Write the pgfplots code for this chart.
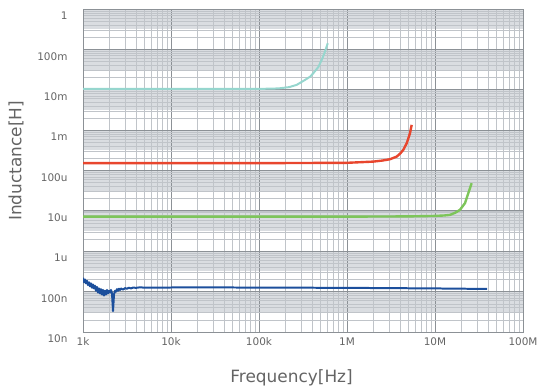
\documentclass[border=0pt]{standalone}
\usepackage{fontspec}
\setmainfont{DejaVu Sans}
\usepackage{pgfplots}
\pgfplotsset{compat=1.18}
\definecolor{bandgray}{RGB}{218,221,225}
\definecolor{gridminor}{RGB}{192,196,201}
\definecolor{gridmajor}{RGB}{140,145,150}
\definecolor{labelgray}{RGB}{100,100,100}
\definecolor{ccyan}{RGB}{150,214,206}
\definecolor{cred}{RGB}{232,70,46}
\definecolor{cgreen}{RGB}{125,197,90}
\definecolor{cblue}{RGB}{28,79,156}
\begin{document}
\begin{tikzpicture}
\begin{axis}[
  set layers,
  at={(0,0)}, anchor=south west,
  scale only axis, width=440bp, height=323bp,
  xmode=log, ymode=log,
  xmin=1e3, xmax=1e8, ymin=1e-8, ymax=1,
  xtick={1e3,1e4,1e5,1e6,1e7,1e8},
  xticklabels={1k,10k,100k,1M,10M,100M},
  ytick={1e-8,1e-7,1e-6,1e-5,1e-4,1e-3,1e-2,1e-1,1},
  yticklabels={10n,100n,1u,10u,100u,1m,10m,100m,1},
  grid=both,
  minor grid style={draw=gridminor, line width=0.5pt},
  major grid style={draw=gridmajor, line width=0.8pt},
  axis line style={draw=gridmajor, line width=0.8pt},
  major tick length=0pt, minor tick length=0pt,
  ticklabel style={font=\fontsize{10.5}{12}\selectfont, text=labelgray},
  yticklabel style={yshift=-7bp, xshift=-12bp},
  xticklabel style={yshift=-2bp},
  xlabel={Frequency[Hz]}, ylabel={Inductance[H]},
  label style={font=\fontsize{17}{20}\selectfont, text=labelgray},
  xlabel style={at={(rel axis cs:0.474,-0.142)}, anchor=center},
  ylabel style={at={(rel axis cs:-0.152,0.53)}, anchor=center},
]
% background bands
\addplot[draw=none, fill=bandgray, on layer=axis background] coordinates {(1e3,1) (1e8,1) (1e8,0.316) (1e3,0.316)};
\addplot[draw=none, fill=bandgray, on layer=axis background] coordinates {(1e3,1e-1) (1e8,1e-1) (1e8,3.16e-2) (1e3,3.16e-2)};
\addplot[draw=none, fill=bandgray, on layer=axis background] coordinates {(1e3,1e-2) (1e8,1e-2) (1e8,3.16e-3) (1e3,3.16e-3)};
\addplot[draw=none, fill=bandgray, on layer=axis background] coordinates {(1e3,1e-3) (1e8,1e-3) (1e8,3.16e-4) (1e3,3.16e-4)};
\addplot[draw=none, fill=bandgray, on layer=axis background] coordinates {(1e3,1e-4) (1e8,1e-4) (1e8,3.16e-5) (1e3,3.16e-5)};
\addplot[draw=none, fill=bandgray, on layer=axis background] coordinates {(1e3,1e-5) (1e8,1e-5) (1e8,3.16e-6) (1e3,3.16e-6)};
\addplot[draw=none, fill=bandgray, on layer=axis background] coordinates {(1e3,1e-6) (1e8,1e-6) (1e8,3.16e-7) (1e3,3.16e-7)};
\addplot[draw=none, fill=bandgray, on layer=axis background] coordinates {(1e3,1e-7) (1e8,1e-7) (1e8,3.16e-8) (1e3,3.16e-8)};

% cyan
\addplot[ccyan, line width=2pt, line join=round] coordinates {
(1000,1.05e-2) (1e4,1.05e-2) (1e5,1.05e-2) (1.5e5,1.07e-2) (1.73e5,1.09e-2)
(2.2e5,1.16e-2) (2.68e5,1.32e-2) (3.33e5,1.75e-2) (3.8e5,2.1e-2) (4.14e5,2.56e-2)
(4.7e5,3.6e-2) (5.16e5,5.47e-2) (5.62e5,8.77e-2) (6.04e5,1.42e-1)
};
% red
\addplot[cred, line width=2.4pt, line join=round] coordinates {
(1000,1.52e-4) (1e5,1.52e-4) (1e6,1.55e-4) (1.99e6,1.66e-4) (2.5e6,1.76e-4)
(3.08e6,1.90e-4) (3.67e6,2.21e-4) (4.0e6,2.6e-4) (4.36e6,3.24e-4) (4.77e6,4.74e-4)
(5.2e6,8.38e-4) (5.43e6,1.35e-3)
};
% green
\addplot[cgreen, line width=2.4pt, line join=round] coordinates {
(1000,7.2e-6) (1e6,7.2e-6) (5e6,7.3e-6) (1e7,7.5e-6) (1.28e7,7.7e-6)
(1.48e7,7.96e-6) (1.7e7,9.0e-6) (1.92e7,1.06e-5) (2.19e7,1.55e-5)
(2.39e7,2.74e-5) (2.61e7,4.85e-5)
};
% blue
\addplot[cblue, line width=2pt, line join=round] coordinates {
(1000,2.2e-7) (1026.5,1.7e-7) (1053.7,2.0e-7) (1081.7,1.6e-7) (1110.4,1.85e-7)
(1139.8,1.45e-7) (1170.0,1.7e-7) (1201.1,1.35e-7) (1232.9,1.6e-7) (1265.6,1.25e-7)
(1299.2,1.5e-7) (1333.6,1.2e-7) (1369.0,1.4e-7) (1405.3,1.05e-7) (1442.6,1.3e-7)
(1480.8,0.95e-7) (1520.1,1.2e-7) (1560.4,0.9e-7) (1601.8,1.15e-7) (1644.3,0.85e-7)
(1687.9,1.1e-7) (1732.6,0.8e-7) (1778.6,1.05e-7) (1825.8,0.85e-7) (1874.2,1.1e-7)
(1923.9,0.9e-7) (1974.9,1.05e-7) (2027.3,0.95e-7) (2081.0,1.1e-7) (2136.2,0.9e-7)
(2192.9,0.33e-7) (2251.0,0.85e-7) (2310.7,1.05e-7) (2372.0,1.0e-7) (2434.9,1.15e-7)
(2499.5,1.05e-7) (2565.8,1.18e-7) (2633.8,1.1e-7) (2703.7,1.2e-7) (2849,1.12e-7)
(3002,1.22e-7) (3164,1.18e-7) (3334,1.25e-7) (3513,1.2e-7) (3702,1.26e-7)
(4003,1.24e-7) (4451,1.28e-7) (5063,1.25e-7) (6500,1.26e-7) (8200,1.26e-7)
(1.2e4,1.27e-7) (1.64e4,1.27e-7) (3e4,1.27e-7) (1e5,1.26e-7) (1e6,1.24e-7)
(1e7,1.20e-7) (2e7,1.18e-7) (3.9e7,1.17e-7)
};
\end{axis}
\path (-83bp,-59bp) rectangle (476bp,332bp);
\end{tikzpicture}
\end{document}
